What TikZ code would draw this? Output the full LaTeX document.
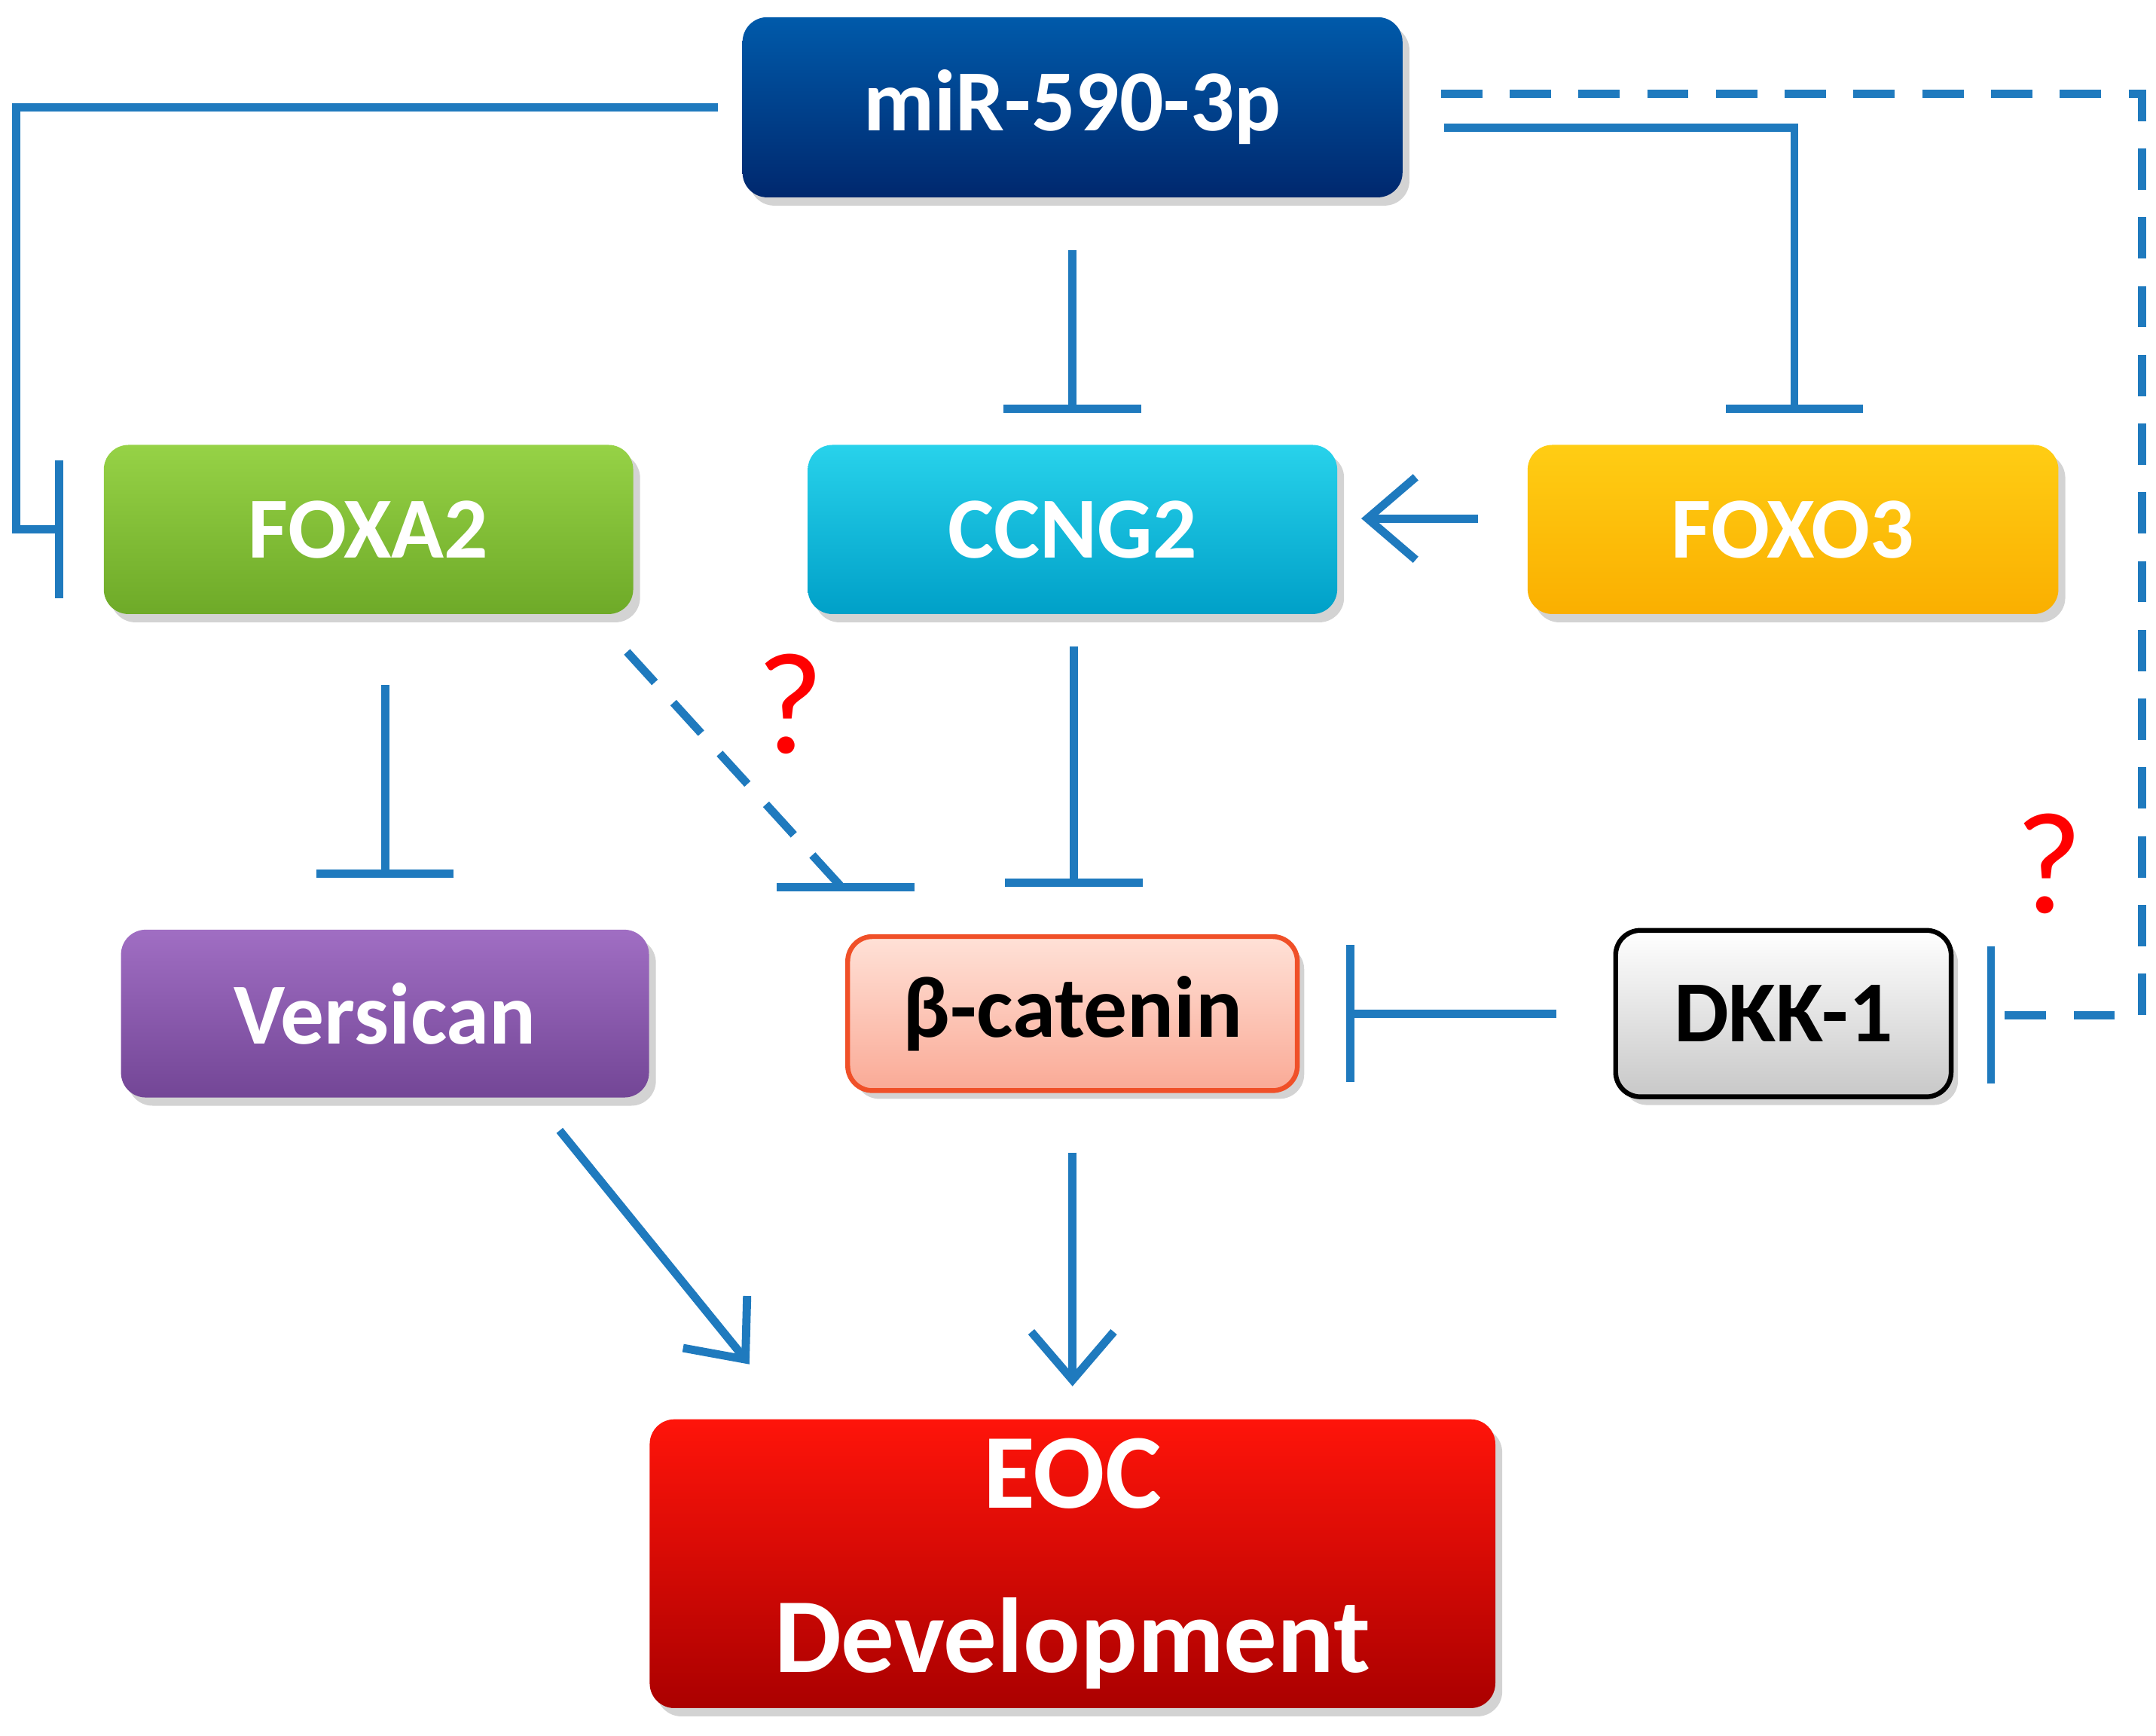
\documentclass[tikz,border=0pt]{standalone}
\usepackage{fontspec}
\setmainfont{Carlito}
\usetikzlibrary{arrows.meta,shadows}
\definecolor{ln}{RGB}{31,122,190}
\begin{document}
\begin{tikzpicture}[
  box/.style={rounded corners=0.18cm,minimum height=1.23cm,font=\bfseries\fontsize{18}{20}\selectfont,text=white,drop shadow={shadow xshift=0.05cm,shadow yshift=-0.06cm,opacity=0.35}},
  ln/.style={draw=ln,line width=1.7pt},
  inh/.style={ln,-{Bar[width=1cm,line width=1.7pt]}},
  act/.style={ln,-{Straight Barb[length=0.35cm,width=0.6cm,line width=1.7pt]}},
  q/.style={text=red,font=\fontsize{30}{30}\selectfont}
]
\useasboundingbox (0,0) rectangle (15.68,-12.62);
\node[box,top color={rgb,255:red,0;green,90;blue,170},bottom color={rgb,255:red,0;green,40;blue,110},minimum width=4.8cm,minimum height=1.31cm] (mir) at (7.80,-0.78) {miR-590-3p};
\node[box,top color={rgb,255:red,150;green,210;blue,70},bottom color={rgb,255:red,110;green,170;blue,40},minimum width=3.85cm] (foxa2) at (2.68,-3.85) {FOXA2};
\node[box,top color={rgb,255:red,40;green,210;blue,235},bottom color={rgb,255:red,0;green,160;blue,200},minimum width=3.85cm] (ccng2) at (7.80,-3.85) {CCNG2};
\node[box,top color={rgb,255:red,255;green,205;blue,20},bottom color={rgb,255:red,250;green,175;blue,0},minimum width=3.86cm] (foxo3) at (13.04,-3.85) {FOXO3};
\node[box,top color={rgb,255:red,160;green,110;blue,195},bottom color={rgb,255:red,115;green,70;blue,150},minimum width=3.84cm,minimum height=1.22cm] (vers) at (2.80,-7.37) {Versican};
\node[box,draw={rgb,255:red,240;green,80;blue,40},line width=1pt,text=black,top color={rgb,255:red,255;green,225;blue,215},bottom color={rgb,255:red,250;green,170;blue,150},minimum width=3.27cm,minimum height=1.12cm] (bcat) at (7.80,-7.37) {β-catenin};
\node[box,draw=black,line width=1pt,text=black,top color=white,bottom color={rgb,255:red,200;green,200;blue,200},minimum width=2.44cm,minimum height=1.21cm] (dkk) at (12.97,-7.37) {DKK-1};
\node[box,top color={rgb,255:red,255;green,20;blue,10},bottom color={rgb,255:red,170;green,0;blue,0},minimum width=6.15cm,minimum height=2.1cm,font=\bfseries\fontsize{22}{34}\selectfont,align=center] (eoc) at (7.80,-11.37) {EOC\\Development};
\node[q] (q1) at (5.75,-5.12) {?};
\node[q] (q2) at (14.90,-6.28) {?};
% connectors
\coordinate (a1) at (5.22,-0.78);
\coordinate (a2) at (0.46,-3.85);
\draw[inh] (a1) -- (0.12,-0.78) |- (a2);
\coordinate (b1) at (7.80,-1.82);
\coordinate (b2) at (7.80,-3.00);
\draw[inh] (b1) -- (b2);
\coordinate (c1) at (10.50,-0.93);
\coordinate (c2) at (13.05,-3.00);
\draw[inh] (c1) -| (c2);
\coordinate (d1) at (10.48,-0.68);
\coordinate (d2) at (14.45,-7.38);
\draw[inh,dash pattern=on 0.3cm off 0.2cm] (d1) -- (15.58,-0.68) |- (d2);
\coordinate (e1) at (10.75,-3.77);
\coordinate (e2) at (9.90,-3.77);
\draw[act] (e1) -- (e2);
\coordinate (f1) at (2.80,-4.98);
\coordinate (f2) at (2.80,-6.38);
\draw[inh] (f1) -- (f2);
\coordinate (g1) at (4.56,-4.74);
\coordinate (g2) at (6.12,-6.45);
\draw[ln,dash pattern=on 0.3cm off 0.2cm] (g1) -- (g2);
\coordinate (g3) at (5.65,-6.45);
\coordinate (g4) at (6.65,-6.45);
\draw[ln] (g3) -- (g4);
\coordinate (h1) at (7.81,-4.70);
\coordinate (h2) at (7.81,-6.45);
\draw[inh] (h1) -- (h2);
\coordinate (i1) at (11.32,-7.37);
\coordinate (i2) at (9.79,-7.37);
\draw[inh] (i1) -- (i2);
\coordinate (j1) at (4.07,-8.22);
\coordinate (j2) at (5.45,-9.92);
\draw[act] (j1) -- (j2);
\coordinate (k1) at (7.80,-8.38);
\coordinate (k2) at (7.80,-10.08);
\draw[act] (k1) -- (k2);
\end{tikzpicture}
\end{document}
